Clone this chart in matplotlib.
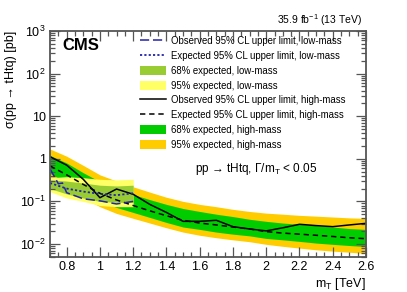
import numpy as np
import matplotlib
matplotlib.use("Agg")
import matplotlib.pyplot as plt
from matplotlib.lines import Line2D
from matplotlib.patches import Patch
from matplotlib.ticker import MultipleLocator, LogLocator, FixedLocator, FuncFormatter, NullFormatter

plt.rcParams["font.family"] = ["Liberation Sans", "DejaVu Sans"]
plt.rcParams["mathtext.fontset"] = "custom"
plt.rcParams["mathtext.rm"] = "Liberation Sans"
plt.rcParams["mathtext.it"] = "Liberation Sans:italic"

# high-mass search, mT in TeV, limits in pb
mass_hm = [0.7, 0.8, 0.9, 1.0, 1.1, 1.2, 1.3, 1.4, 1.5, 1.6,
           1.7, 1.8, 1.9, 2.0, 2.1, 2.2, 2.3, 2.4, 2.5, 2.6]
obs_hm = [1.12, 0.71, 0.33, 0.122, 0.195, 0.147, 0.085, 0.055, 0.034, 0.034,
          0.036, 0.0255, 0.0225, 0.0203, 0.024, 0.029, 0.027, 0.0255, 0.028, 0.0305]
exp_hm = [0.68, 0.42, 0.25, 0.155, 0.108, 0.08, 0.06, 0.046, 0.036, 0.031,
          0.028, 0.025, 0.0225, 0.0195, 0.018, 0.017, 0.016, 0.015, 0.014, 0.0133]
exp_hm_1s_up = [1.2, 0.8, 0.47, 0.29, 0.2, 0.145, 0.11, 0.085, 0.068, 0.058,
                0.05, 0.044, 0.038, 0.034, 0.031, 0.029, 0.027, 0.025, 0.023, 0.022]
exp_hm_1s_dn = [0.45, 0.28, 0.17, 0.1, 0.072, 0.055, 0.042, 0.032, 0.025, 0.022,
                0.019, 0.017, 0.0155, 0.0135, 0.0125, 0.0115, 0.0105, 0.0098, 0.0092, 0.0087]
exp_hm_2s_up = [1.7, 1.15, 0.7, 0.42, 0.3, 0.22, 0.165, 0.125, 0.1, 0.085,
                0.075, 0.065, 0.058, 0.053, 0.05, 0.047, 0.045, 0.043, 0.041, 0.040]
exp_hm_2s_dn = [0.3, 0.2, 0.12, 0.075, 0.052, 0.04, 0.031, 0.024, 0.019, 0.016,
                0.014, 0.0125, 0.0113, 0.0098, 0.0088, 0.008, 0.0073, 0.0068, 0.0064, 0.006]

# low-mass search
mass_lm_obs = [0.7, 0.75, 0.775, 0.8, 0.9, 1.0, 1.1, 1.2]
obs_lm = [0.58, 0.26, 0.27, 0.16, 0.115, 0.103, 0.087, 0.1]
mass_lm = [0.7, 0.8, 0.9, 1.0, 1.1, 1.2]
exp_lm = [0.27, 0.2, 0.17, 0.15, 0.14, 0.155]
exp_lm_1s_up = [0.32, 0.3, 0.27, 0.24, 0.23, 0.24]
exp_lm_1s_dn = [0.2, 0.15, 0.12, 0.1, 0.095, 0.095]
exp_lm_2s_up = [0.36, 0.38, 0.36, 0.33, 0.32, 0.33]
exp_lm_2s_dn = [0.17, 0.12, 0.1, 0.08, 0.075, 0.075]

c_hm68, c_hm95 = "#00cc00", "#ffcc00"
c_lm68, c_lm95 = "#99cc33", "#ffff66"
c_blue = "#2222aa"

fig = plt.figure(figsize=(4.07, 2.92), dpi=100)
ax = fig.add_axes([0.1229, 0.1199, 0.7764, 0.7739])

ax.fill_between(mass_hm, exp_hm_2s_dn, exp_hm_2s_up, color=c_hm95, lw=0)
ax.fill_between(mass_hm, exp_hm_1s_dn, exp_hm_1s_up, color=c_hm68, lw=0)
ax.fill_between(mass_lm, exp_lm_2s_dn, exp_lm_2s_up, color=c_lm95, lw=0)
ax.fill_between(mass_lm, exp_lm_1s_dn, exp_lm_1s_up, color=c_lm68, lw=0)
ax.plot(mass_hm, exp_hm, color="black", ls=(0, (3.5, 2.5)), lw=1.1)
ax.plot(mass_hm, obs_hm, color="black", ls="-", lw=1.1)
ax.plot(mass_lm, exp_lm, color=c_blue, ls=(0, (1.2, 1.2)), lw=1.3)
ax.plot(mass_lm_obs, obs_lm, color=c_blue, ls=(0, (6, 2.5)), lw=1.1)

ax.set_yscale("log")
ax.set_xlim(0.7, 2.6)
ax.set_ylim(0.00495, 1000)

ax.xaxis.set_major_locator(FixedLocator(np.arange(0.8, 2.61, 0.2)))
ax.xaxis.set_minor_locator(MultipleLocator(0.05))
ax.xaxis.set_major_formatter(FuncFormatter(lambda v, p: f"{v:g}"))
ax.yaxis.set_major_locator(LogLocator(base=10, numticks=20))
ax.yaxis.set_minor_locator(LogLocator(base=10, subs=np.arange(2, 10), numticks=20))
ax.yaxis.set_minor_formatter(NullFormatter())


def ylab(v, p):
    e = int(round(np.log10(v)))
    if e == 0:
        return "1"
    if e == 1:
        return "10"
    return r"$10^{%d}$" % e


ax.yaxis.set_major_formatter(FuncFormatter(ylab))

frame_c = "#555555"
for s in ax.spines.values():
    s.set_color(frame_c)
    s.set_linewidth(1.3)
ax.tick_params(which="both", direction="in", top=True, right=True, color=frame_c, width=0.9)
ax.tick_params(which="major", length=7, labelsize=9, pad=3)
ax.tick_params(which="minor", length=3.5)

ax.set_ylabel("σ(pp → tHtq) [pb]", loc="top", fontsize=9, labelpad=2)
ax.set_xlabel(r"m$_{\mathrm{T}}$ [TeV]", loc="right", fontsize=9, labelpad=2)

ax.text(0.04, 0.935, "CMS", transform=ax.transAxes, fontsize=12, fontweight="bold",
        va="center", ha="left")
fig.text(362 / 407, 1 - 20 / 292, r"35.9 fb$^{-1}$ (13 TeV)", fontsize=7.5,
         ha="right", va="center")
ax.text(0.459, 0.389, "pp → tHtq, Γ/m$_{\\mathrm{T}}$ < 0.05",
        transform=ax.transAxes, fontsize=8.5, ha="left", va="center")

handles = [
    Line2D([], [], color=c_blue, ls=(0, (6, 2.5)), lw=1.1),
    Line2D([], [], color=c_blue, ls=(0, (1.2, 1.2)), lw=1.3),
    Patch(facecolor=c_lm68, lw=0),
    Patch(facecolor=c_lm95, lw=0),
    Line2D([], [], color="black", ls="-", lw=1.1),
    Line2D([], [], color="black", ls=(0, (3.5, 2.5)), lw=1.1),
    Patch(facecolor=c_hm68, lw=0),
    Patch(facecolor=c_hm95, lw=0),
]
labels = [
    "Observed 95% CL upper limit, low-mass",
    "Expected 95% CL upper limit, low-mass",
    "68% expected, low-mass",
    "95% expected, low-mass",
    "Observed 95% CL upper limit, high-mass",
    "Expected 95% CL upper limit, high-mass",
    "68% expected, high-mass",
    "95% expected, high-mass",
]
ax.legend(handles, labels, loc="upper left", bbox_to_anchor=(0.285, 0.977),
          frameon=False, fontsize=6.9, handlelength=2.7, handleheight=1.15,
          labelspacing=0.5, handletextpad=0.5, borderpad=0, borderaxespad=0)

fig.savefig("out.png", dpi=100)
